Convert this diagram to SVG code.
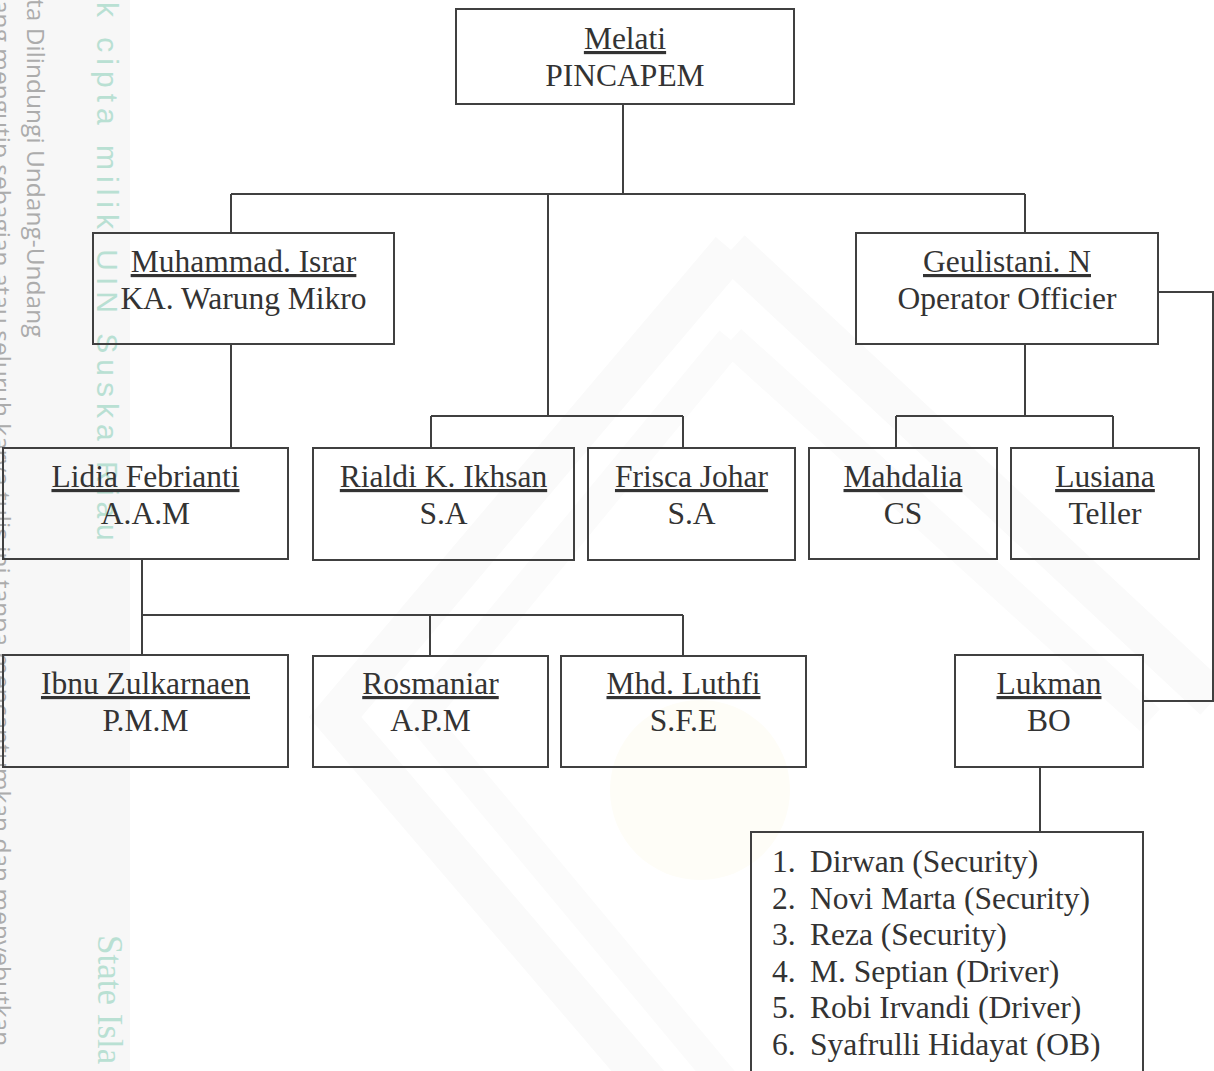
<svg xmlns="http://www.w3.org/2000/svg" width="1214" height="1071" viewBox="0 0 1214 1071">
<style>
.box{fill:none;stroke:#404040;stroke-width:2}
.ln{fill:none;stroke:#404040;stroke-width:2}
.t{font-family:"Liberation Serif","Times New Roman",serif;font-size:31.5px;fill:#333;text-anchor:middle}
.u{text-decoration:underline}
.l{font-family:"Liberation Serif","Times New Roman",serif;font-size:31.5px;fill:#333}
.wg{font-family:"Open Sans","Liberation Sans",sans-serif;font-size:24.5px;fill:#acacac}
.wc{font-family:"Liberation Sans",sans-serif;font-size:30px;fill:#b9e0d3;letter-spacing:6px}
.ws{font-family:"Liberation Serif",serif;font-size:35px;fill:#b9e0d3}
</style>
<g id="watermark">
<rect x="0" y="0" width="130" height="1071" fill="#f7f7f7"/>
<path d="M731,250 L1214,700 M731,250 L335,717 L731,1180" fill="none" stroke="#fafafa" stroke-width="40"/>
<path d="M731,340 L1150,720 M731,340 L420,717 L731,1090" fill="none" stroke="#fbfbfb" stroke-width="30"/>
<circle cx="700" cy="790" r="90" fill="#fefdf7"/>
<text class="wg" transform="translate(-7,0) rotate(90)">ang mengutip sebagian atau seluruh karya tulis ini tanpa mencantumkan dan menyebutkan</text>
<text class="wg" transform="translate(27,-1) rotate(90)">ta Dilindungi Undang-Undang</text>
<text class="wc" transform="translate(97,2) rotate(90)">k cipta milik UIN Suska Riau</text>
<text class="ws" transform="translate(98,935) rotate(90)">State Isla</text>
</g>
<g id="connectors">
<path class="ln" d="M623,104 V194 M231,194 H1025 M231,194 V233 M1025,194 V233 M548,194 V416 M431,416 H683 M431,416 V448 M683,416 V448"/>
<path class="ln" d="M231,344 V448 M142,559 V655 M142,615 H683 M430,615 V656 M683,615 V656"/>
<path class="ln" d="M1025,344 V416 M896,416 H1113 M896,416 V448 M1113,416 V448"/>
<path class="ln" d="M1158,292 H1213 V701 H1143 M1040,767 V832"/>
</g>
<g id="melati"><rect class="box" x="456" y="9" width="338" height="95"/><text class="t u" x="625" y="49">Melati</text><text class="t" x="625" y="86">PINCAPEM</text></g>
<g id="muhammad"><rect class="box" x="93" y="233" width="301" height="111"/><text class="t u" x="243.5" y="272">Muhammad. Israr</text><text class="t" x="243.5" y="309">KA. Warung Mikro</text></g>
<g id="geulistani"><rect class="box" x="856" y="233" width="302" height="111"/><text class="t u" x="1007" y="272">Geulistani. N</text><text class="t" x="1007" y="309">Operator Officier</text></g>
<g id="lidia"><rect class="box" x="3" y="448" width="285" height="111"/><text class="t u" x="145.5" y="487">Lidia Febrianti</text><text class="t" x="145.5" y="523.5">A.A.M</text></g>
<g id="rialdi"><rect class="box" x="313" y="448" width="261" height="112"/><text class="t u" x="443.5" y="487">Rialdi K. Ikhsan</text><text class="t" x="443.5" y="523.5">S.A</text></g>
<g id="frisca"><rect class="box" x="588" y="448" width="207" height="112"/><text class="t u" x="691.5" y="487">Frisca Johar</text><text class="t" x="691.5" y="523.5">S.A</text></g>
<g id="mahdalia"><rect class="box" x="809" y="448" width="188" height="111"/><text class="t u" x="903" y="487">Mahdalia</text><text class="t" x="903" y="523.5">CS</text></g>
<g id="lusiana"><rect class="box" x="1011" y="448" width="188" height="111"/><text class="t u" x="1105" y="487">Lusiana</text><text class="t" x="1105" y="523.5">Teller</text></g>
<g id="ibnu"><rect class="box" x="3" y="655" width="285" height="112"/><text class="t u" x="145.5" y="694">Ibnu Zulkarnaen</text><text class="t" x="145.5" y="731">P.M.M</text></g>
<g id="rosmaniar"><rect class="box" x="313" y="656" width="235" height="111"/><text class="t u" x="430.5" y="694">Rosmaniar</text><text class="t" x="430.5" y="731">A.P.M</text></g>
<g id="mhd"><rect class="box" x="561" y="656" width="245" height="111"/><text class="t u" x="683.5" y="694">Mhd. Luthfi</text><text class="t" x="683.5" y="731">S.F.E</text></g>
<g id="lukman"><rect class="box" x="955" y="655" width="188" height="112"/><text class="t u" x="1049" y="694">Lukman</text><text class="t" x="1049" y="731">BO</text></g>
<g id="staff"><rect class="box" x="751" y="832" width="392" height="260"/>
<text class="l" x="772" y="872">1.</text><text class="l" x="810" y="872">Dirwan (Security)</text>
<text class="l" x="772" y="908.5">2.</text><text class="l" x="810" y="908.5">Novi Marta (Security)</text>
<text class="l" x="772" y="945">3.</text><text class="l" x="810" y="945">Reza (Security)</text>
<text class="l" x="772" y="981.5">4.</text><text class="l" x="810" y="981.5">M. Septian (Driver)</text>
<text class="l" x="772" y="1018">5.</text><text class="l" x="810" y="1018">Robi Irvandi (Driver)</text>
<text class="l" x="772" y="1054.5">6.</text><text class="l" x="810" y="1054.5">Syafrulli Hidayat (OB)</text>
</g>
</svg>
